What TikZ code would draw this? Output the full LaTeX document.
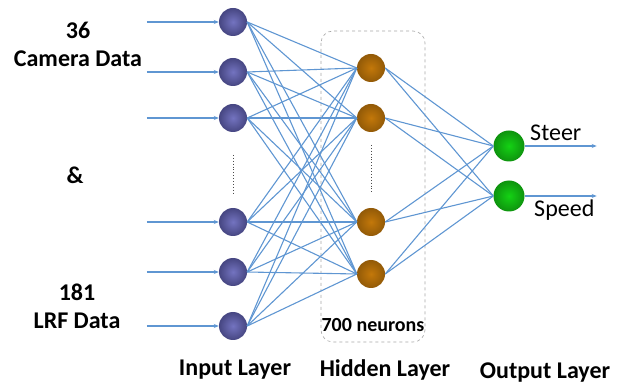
\documentclass[tikz,border=0pt]{standalone}
\usepackage{fontspec}
\setmainfont{Carlito}
\definecolor{linkblue}{RGB}{95, 150, 210}
\definecolor{inpurple}{RGB}{100, 100, 185}
\definecolor{hidorange}{RGB}{195, 120, 10}
\definecolor{outgreen}{RGB}{20, 210, 20}
\usetikzlibrary{arrows.meta, positioning, calc}

\tikzset{
  neuron/.style={circle, minimum size=28pt, inner sep=0pt, shading=radial},
  inneuron/.style={neuron, inner color=inpurple!90!white, outer color=inpurple!70!black},
  hidneuron/.style={neuron, inner color=hidorange, outer color=hidorange!75!black},
  outneuron/.style={neuron, minimum size=31pt, inner color=outgreen, outer color=outgreen!70!black},
  link/.style={linkblue, line width=1.1pt},
  feed/.style={linkblue, line width=1.1pt, -{Stealth[length=5pt, width=4pt]}},
  label/.style={font=\bfseries\fontsize{24}{28}\selectfont, align=center},
}

\begin{document}
\begin{tikzpicture}[x=1pt, y=-1pt]
        \useasboundingbox (0,0) rectangle (624,387);

        % hidden layer frame
        \draw[gray!70, dashed, rounded corners=12pt, line width=0.6pt]
          (321,31) rectangle (425,342);
        \node[font=\bfseries\fontsize{20}{22}\selectfont] (neurons) at (373,325) {700 neurons};

        % input layer
        \node[inneuron] (in1) at (233,22) {};
        \node[inneuron] (in2) at (233,72) {};
        \node[inneuron] (in3) at (233,118) {};
        \node[inneuron] (in4) at (233,222) {};
        \node[inneuron] (in5) at (233,272) {};
        \node[inneuron] (in6) at (233,326) {};

        % hidden layer
        \node[hidneuron] (hid1) at (371,68) {};
        \node[hidneuron] (hid2) at (371,118) {};
        \node[hidneuron] (hid3) at (371,222) {};
        \node[hidneuron] (hid4) at (371,274) {};

        % output layer
        \node[outneuron] (out1) at (509,146) {};
        \node[outneuron] (out2) at (509,196) {};

        % skipped neurons
        \draw[black!70, dotted, line width=0.9pt] ($(in3)+(0,37)$) -- ($(in4)+(0,-27)$);
        \draw[black!70, dotted, line width=0.9pt] ($(hid2)+(0,27)$) -- ($(hid3)+(0,-28)$);

        % connections
        \foreach \i in {1,...,6}
          \foreach \j in {1,...,4}
            \draw[link] (in\i.east) -- (hid\j.west);
        \foreach \j in {1,...,4}
          \foreach \k in {1,2}
            \draw[link] (hid\j.east) -- (out\k.west);

        % inputs and outputs
        \foreach \i in {1,...,6}
          \draw[feed] ($(in\i.west)+(-72,0)$) -- (in\i.west);
        \draw[feed] (out1.east) -- ++(72,0) coordinate (steerend);
        \draw[feed] (out2.east) -- ++(72,0) coordinate (speedend);
        \node[font=\fontsize{24}{26}\selectfont, above right=1.5pt and 2pt of out1.east] (steer) {Steer};
        \node[font=\fontsize{24}{26}\selectfont, below right=0pt and 6pt of out2.east] (speed) {Speed};

        % data labels
        \node[label] (camera) at (78,44) {36\\Camera Data};
        \node[label] (amp) at (75,175) {\&};
        \node[label] (lrf) at (77,306) {181\\LRF Data};

        % layer names
        \node[label] (inname) at (235,370) {Input Layer};
        \node[label] (hidname) at (385,370) {Hidden Layer};
        \node[label] (outname) at (545,373) {Output Layer};
      \end{tikzpicture}
\end{document}
